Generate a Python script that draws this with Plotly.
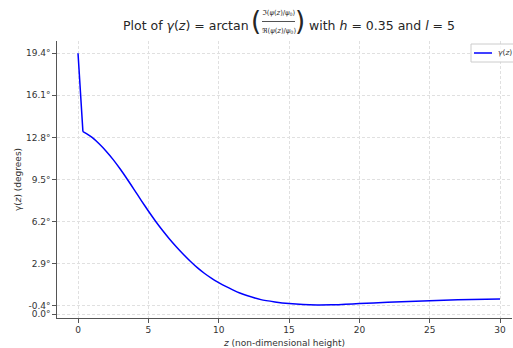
import plotly.graph_objects as go

# ---- data ----
z_vals = [0, 0.35, 0.6, 1.0, 1.5, 2.0, 2.5, 3.0, 3.5, 4.0, 4.5, 5.0, 5.5, 6.0, 6.5, 7.0,
          7.5, 8.0, 8.5, 9.0, 9.5, 10, 10.5, 11, 11.5, 12, 13, 14, 15, 16, 17, 18, 19, 20,
          22, 24, 26, 28, 30]
gamma_deg = [19.4, 13.25, 13.1, 12.8, 12.3, 11.72, 11.06, 10.32, 9.52, 8.69, 7.85, 7.03, 6.25,
             5.52, 4.84, 4.21, 3.62, 3.07, 2.57, 2.13, 1.75, 1.42, 1.12, 0.85, 0.6, 0.4, 0.08,
             -0.1, -0.23, -0.31, -0.34, -0.33, -0.29, -0.23, -0.13, -0.04, 0.04, 0.10, 0.13]
x_ticks = [0, 5, 10, 15, 20, 25, 30]
y_tick_pos = [-1.07, -0.4, 2.9, 6.2, 9.5, 12.8, 16.1, 19.4]
y_tick_text = ["0.0°", "-0.4°", "2.9°", "6.2°", "9.5°", "12.8°", "16.1°", "19.4°"]

W, H = 513, 348
L, R, T, B = 57, 1, 41, 30
FONT = "DejaVu Sans"

def px(xp):
    return (xp - L) / (W - L - R)

def py(yp):
    return (H - B - yp) / (H - T - B)

fig = go.Figure()
# straight segment up to the kink at z = h, then the smooth part
fig.add_trace(go.Scatter(x=z_vals[:2], y=gamma_deg[:2], mode="lines",
                         line=dict(color="#0000ff", width=1.5),
                         name="γ(z)", showlegend=False))
fig.add_trace(go.Scatter(x=z_vals[1:], y=gamma_deg[1:], mode="lines",
                         line=dict(color="#0000ff", width=1.5, shape="spline", smoothing=0.6),
                         name="γ(z)", showlegend=False))

grid = dict(showgrid=True, gridcolor="#e0e0e0", griddash="3px,2px", gridwidth=0.8,
            zeroline=False, showline=True, linecolor="#555555", linewidth=1.3,
            ticks="outside", ticklen=3.5, tickcolor="#555555", tickwidth=1,
            automargin=False,
            tickfont=dict(family=FONT, size=9, color="#333333"))

fig.update_xaxes(range=[-1.494, 30.85], tickvals=x_ticks, **grid,
                 title=dict(text="<i>z</i> (non-dimensional height)",
                            font=dict(family=FONT, size=9, color="#333333"), standoff=5))
fig.update_yaxes(range=[-1.36, 20.36], tickvals=y_tick_pos, ticktext=y_tick_text, **grid,
                 title=dict(text="γ(<i>z</i>) (degrees)",
                            font=dict(family=FONT, size=9, color="#333333"), standoff=2))

ann = []
tc = "#262626"
ann.append(dict(text="Plot of <i>γ</i>(<i>z</i>) = arctan", x=px(251), y=py(25),
                xanchor="right", yanchor="middle", font=dict(family=FONT, size=12.5, color=tc)))
ann.append(dict(text="(", x=px(256), y=py(21), xanchor="center", yanchor="middle",
                font=dict(family=FONT, size=26, color=tc)))
ann.append(dict(text=")", x=px(300), y=py(21), xanchor="center", yanchor="middle",
                font=dict(family=FONT, size=26, color=tc)))
ann.append(dict(text="ℑ(<i>ψ</i>(<i>z</i>)/<i>ψ</i><sub>0</sub>)", x=px(278.5), y=py(12.5),
                xanchor="center", yanchor="middle", font=dict(family=FONT, size=6.8, color=tc)))
ann.append(dict(text="ℜ(<i>ψ</i>(<i>z</i>)/<i>ψ</i><sub>0</sub>)", x=px(278.5), y=py(31),
                xanchor="center", yanchor="middle", font=dict(family=FONT, size=6.8, color=tc)))
ann.append(dict(text="with <i>h</i> = 0.35 and <i>l</i> = 5", x=px(307), y=py(25),
                xanchor="left", yanchor="middle", font=dict(family=FONT, size=12.5, color=tc)))
# legend text
ann.append(dict(text="<i>γ</i>(<i>z</i>)", x=px(496), y=py(53), xanchor="left",
                yanchor="middle", font=dict(family=FONT, size=7.5, color="#333333")))
for a in ann:
    a.update(xref="paper", yref="paper", showarrow=False)

shapes = [
    dict(type="line", xref="paper", yref="paper", x0=px(262), x1=px(295), y0=py(21.5),
         y1=py(21.5), line=dict(color=tc, width=0.8)),
    # legend box and sample line
    dict(type="rect", xref="paper", yref="paper", x0=px(471), x1=px(516), y0=py(44),
         y1=py(62), line=dict(color="#cccccc", width=1), fillcolor="rgba(255,255,255,0.8)"),
    dict(type="line", xref="paper", yref="paper", x0=px(474), x1=px(492), y0=py(53),
         y1=py(53), line=dict(color="#0000ff", width=1.5)),
]

fig.update_layout(width=W, height=H, margin=dict(l=L, r=R, t=T, b=B, autoexpand=False),
                  paper_bgcolor="white", plot_bgcolor="white",
                  annotations=ann, shapes=shapes, showlegend=False,
                  font=dict(family=FONT))

fig.write_html("out.html", config={"displayModeBar": False},
               post_script="document.body.style.margin='0';document.body.style.overflow='hidden';")
